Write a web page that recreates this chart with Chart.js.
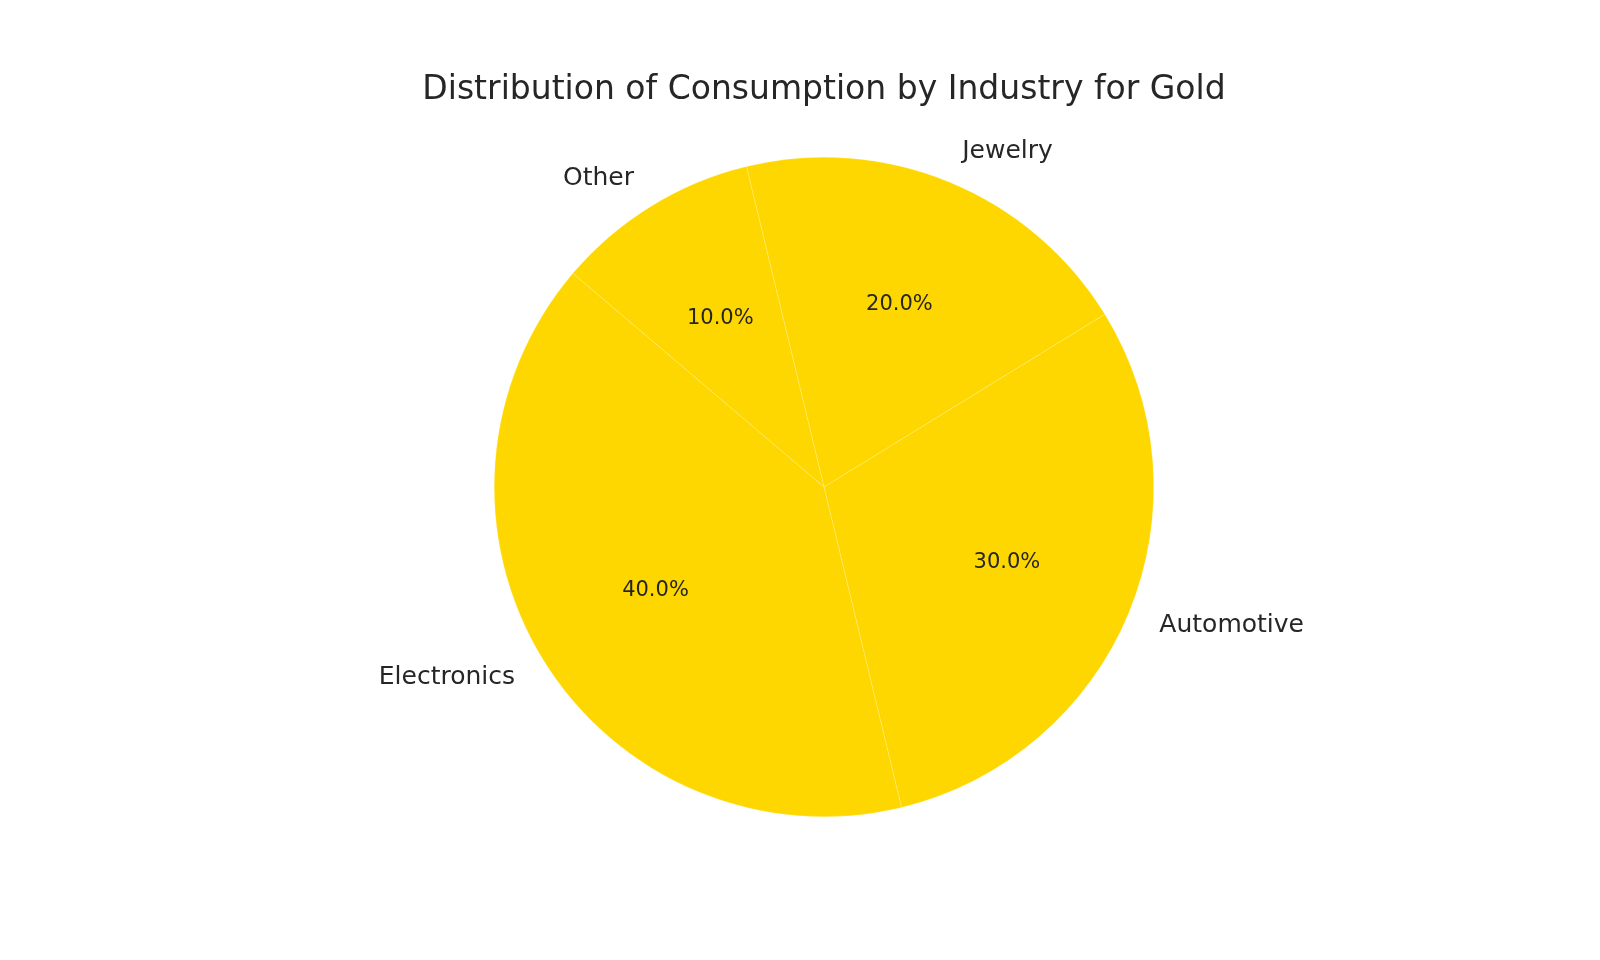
<!DOCTYPE html>
<html><head><meta charset="utf-8">
<script src="https://cdn.jsdelivr.net/npm/chart.js@4"></script>
<style>html,body{margin:0;padding:0;background:#fff}#w{width:1600px;height:960px}</style>
</head><body><div id="w"><canvas id="c"></canvas></div>
<script>
const titleText = "Distribution of Consumption by Industry for Gold";
const categories = ["Jewelry", "Automotive", "Electronics", "Other"];
const shares = [20, 30, 40, 10];
const sliceColors = ["#FFD700", "#FFD700", "#FFD700", "#FFD700"];

const labelPlugin = {
  id: "lbl",
  afterDraw(chart) {
    const ctx = chart.ctx;
    ctx.save();
    ctx.fillStyle = "#262626";
    ctx.textAlign = "center"; ctx.textBaseline = "middle";
    ctx.font = "33px 'DejaVu Sans'";
    ctx.fillText(titleText, 824, 90);
    const total = shares.reduce((a, b) => a + b, 0);
    chart.getDatasetMeta(0).data.forEach((arc, i) => {
      const a = (arc.startAngle + arc.endAngle) / 2;
      const r = arc.outerRadius;
      const ox = arc.x + Math.cos(a) * r * 1.1, oy = arc.y + Math.sin(a) * r * 1.1;
      ctx.font = "25px 'DejaVu Sans'";
      ctx.textAlign = Math.cos(a) >= 0 ? "left" : "right";
      ctx.fillText(categories[i], ox, oy);
      ctx.font = "21px 'DejaVu Sans'";
      ctx.textAlign = "center";
      ctx.fillText((shares[i] / total * 100).toFixed(1) + "%", arc.x + Math.cos(a) * r * 0.6, arc.y + Math.sin(a) * r * 0.6);
    });
    ctx.restore();
  }
};

new Chart(document.getElementById("c"), {
  type: "pie",
  data: { labels: categories, datasets: [{ data: shares, backgroundColor: sliceColors, borderColor: "rgba(255,255,255,0.35)", borderWidth: 0.5 }] },
  options: {
    responsive: true, maintainAspectRatio: false, animation: false,
    rotation: -13.6,
    layout: { padding: { top: 157, bottom: 143, left: 48, right: 0 } },
    plugins: { legend: { display: false }, tooltip: { enabled: false }, title: { display: false } }
  },
  plugins: [labelPlugin]
});
</script></body></html>
